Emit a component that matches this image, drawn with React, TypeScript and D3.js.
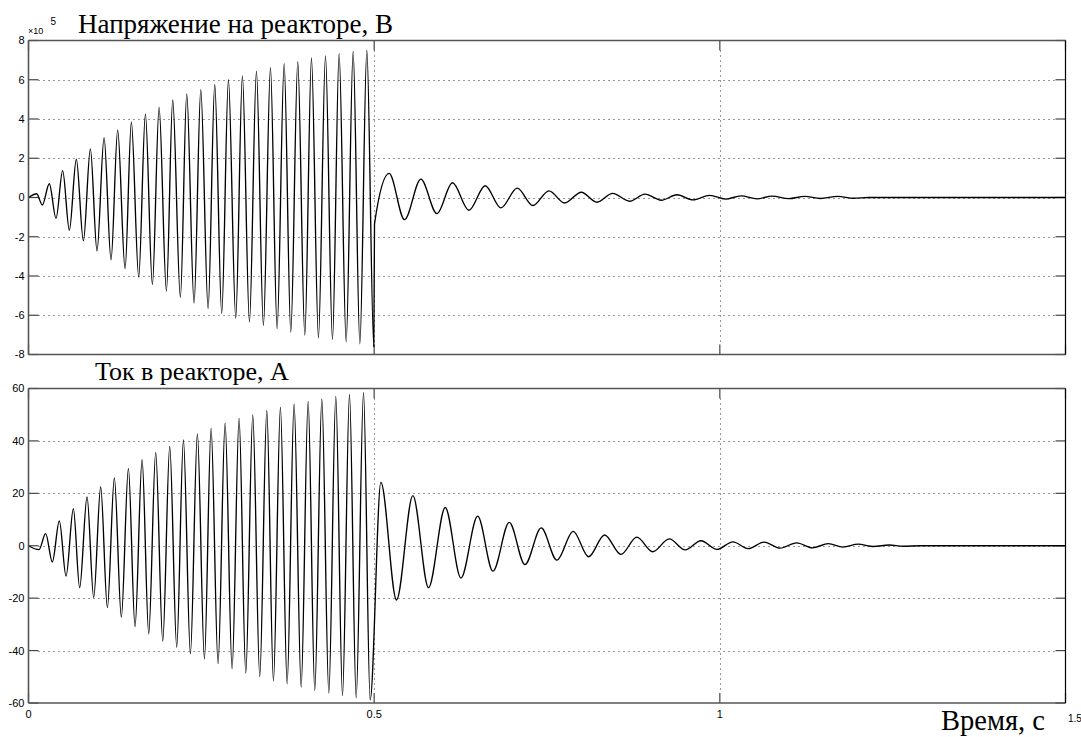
import React from "react";
import * as d3 from "d3";

// ---- Data (extrema of the waveforms) ----
// Voltage on reactor, units of 1e5 V
const voltageTime = [
  0, 0.0118, 0.02, 0.0301, 0.0398, 0.0494, 0.0591, 0.0692, 0.0794, 0.0895, 0.0991,
  0.1093, 0.1194, 0.129, 0.1397, 0.1488, 0.1594, 0.1691, 0.1792, 0.1889, 0.1995,
  0.2086, 0.2197, 0.2289, 0.2395, 0.2492, 0.2598, 0.2694, 0.2795, 0.2892, 0.2998,
  0.3094, 0.3196, 0.3297, 0.3398, 0.35, 0.3596, 0.3698, 0.3794, 0.3895, 0.3997,
  0.4093, 0.4194, 0.4296, 0.4397, 0.4493, 0.4595, 0.4696, 0.4793, 0.4894, 0.4995,
  0.5005, 0.5217, 0.5439, 0.5675, 0.5907, 0.6133, 0.637, 0.6606, 0.6833, 0.7069,
  0.7296, 0.7528, 0.7754, 0.7996, 0.8223, 0.8449, 0.8695, 0.8917, 0.9153, 0.938,
  0.9612, 0.9853, 1.008, 1.0307, 1.0538, 1.0755, 1.0996, 1.1228, 1.1454, 1.1705,
  1.1936, 1.215, 1.5,
];
const voltageValue = [
  0, 0.19, -0.38, 0.7, -1.06, 1.37, -1.66, 1.95, -2.21, 2.48, -2.72,
  3.05, -3.17, 3.43, -3.63, 3.84, -4.05, 4.25, -4.43, 4.59, -4.77,
  4.97, -5.09, 5.28, -5.38, 5.5, -5.66, 5.76, -5.91, 6.0, -6.14,
  6.2, -6.34, 6.44, -6.51, 6.62, -6.68, 6.82, -6.86, 6.92, -7.01,
  7.11, -7.15, 7.22, -7.23, 7.33, -7.35, 7.44, -7.45, 7.51, -7.6,
  -1.34, 1.23, -1.13, 0.94, -0.82, 0.75, -0.65, 0.6, -0.53, 0.48,
  -0.41, 0.34, -0.28, 0.27, -0.24, 0.21, -0.19, 0.17, -0.14, 0.14,
  -0.12, 0.11, -0.08, 0.08, -0.07, 0.07, -0.06, 0.06, -0.05, 0.06,
  -0.04, 0, 0,
];

// Current in reactor, A
const currentTime = [
  0, 0.0152, 0.0248, 0.0345, 0.0446, 0.0543, 0.0649, 0.074, 0.0847, 0.0943, 0.1044,
  0.1141, 0.1242, 0.1343, 0.1445, 0.1541, 0.1643, 0.1739, 0.184, 0.1942, 0.2043,
  0.2144, 0.2241, 0.2342, 0.2443, 0.2545, 0.2641, 0.2742, 0.2844, 0.2945, 0.3046,
  0.3143, 0.3244, 0.3345, 0.3447, 0.3543, 0.3644, 0.3741, 0.3842, 0.3944, 0.4045,
  0.4141, 0.4243, 0.4344, 0.4445, 0.4542, 0.4643, 0.474, 0.4846, 0.4942,
  0.5097, 0.5323, 0.556, 0.5786, 0.6028, 0.6255, 0.6497, 0.6718, 0.6954, 0.7181,
  0.7416, 0.7643, 0.7879, 0.8101, 0.8333, 0.8569, 0.88, 0.9027, 0.9268, 0.95,
  0.9726, 0.9957, 1.019, 1.041, 1.064, 1.087, 1.111, 1.134, 1.157, 1.178,
  1.2, 1.222, 1.245, 1.265, 1.29, 1.5,
];
const currentValue = [
  0, -1.5, 4.6, -6.2, 9.5, -11.6, 14.1, -16.0, 18.6, -19.8, 22.4,
  -23.6, 25.9, -27.2, 29.5, -30.8, 32.8, -33.6, 35.6, -36.4, 37.9,
  -38.7, 40.4, -41.2, 42.7, -43.1, 44.8, -45.0, 46.8, -46.9, 48.6,
  -48.6, 49.9, -49.9, 51.6, -51.6, 52.9, -52.7, 54.1, -53.9, 55.1,
  -55.2, 56.0, -56.2, 57.0, -57.2, 57.7, -58.0, 58.5, -58.8,
  24.2, -20.7, 19.1, -16.0, 14.6, -12.3, 11.3, -9.7, 8.9, -7.2,
  6.8, -5.5, 5.5, -4.2, 4.1, -3.3, 3.3, -2.3, 2.6, -1.6,
  1.9, -1.4, 1.5, -1.1, 1.4, -0.9, 1.1, -0.8, 0.8, -0.5,
  0.6, -0.3, 0.3, -0.2, 0, 0,
];

const xTicks = [0, 0.5, 1, 1.5];
const xTickLabels = ["0", "0.5", "1", "1.5"];
const voltageTicks = [-8, -6, -4, -2, 0, 2, 4, 6, 8];
const currentTicks = [-60, -40, -20, 0, 20, 40, 60];

const titleTop = "Напряжение на реакторе, В";
const titleBottom = "Ток в реакторе, А";
const xLabel = "Время, с";

const W = 1081;
const H = 737;
const X0 = 28.5;
const X1 = 1065.5;
const TICK_LEN = 10;
const sans = "'Liberation Sans', Arial, sans-serif";
const serif = "'Liberation Serif', 'Times New Roman', serif";

type PanelProps = {
  id: string;
  top: number;
  bottom: number;
  domain: [number, number];
  ticks: number[];
  times: number[];
  values: number[];
};

const x = d3.scaleLinear().domain([0, 1.5]).range([X0, X1]);

function Panel({ id, top, bottom, domain, ticks, times, values }: PanelProps) {
  const y = d3.scaleLinear().domain(domain).range([bottom, top]);
  const pts: [number, number][] = times.map((t, i) => [t, values[i]]);
  const line = d3
    .line<[number, number]>()
    .x((d) => x(d[0]))
    .y((d) => y(d[1]))
    .curve(d3.curveMonotoneX);
  const inner = ticks.filter((v) => v !== domain[0] && v !== domain[1]);
  const innerX = xTicks.filter((v) => v !== 0 && v !== 1.5);
  return (
    <g>
      <defs>
        <clipPath id={id}>
          <rect x={X0} y={top} width={X1 - X0} height={bottom - top} />
        </clipPath>
      </defs>
      <rect x={X0} y={top} width={X1 - X0} height={bottom - top} fill="#fff" />
      {/* grid */}
      {inner.map((v) => (
        <line
          key={"gy" + v}
          x1={X0 + TICK_LEN}
          x2={X1 - TICK_LEN}
          y1={Math.round(y(v)) + 0.5}
          y2={Math.round(y(v)) + 0.5}
          stroke="#333"
          strokeWidth={1}
          strokeDasharray="1 4"
        />
      ))}
      {innerX.map((v) => (
        <line
          key={"gx" + v}
          x1={Math.round(x(v)) + 0.5}
          x2={Math.round(x(v)) + 0.5}
          y1={top + TICK_LEN}
          y2={bottom - TICK_LEN}
          stroke="#333"
          strokeWidth={1}
          strokeDasharray="1 4"
        />
      ))}
      {/* ticks */}
      {ticks.map((v) => (
        <g key={"ty" + v}>
          <line x1={X0} x2={X0 + TICK_LEN} y1={y(v)} y2={y(v)} stroke="#444" strokeWidth={1.2} />
          <line x1={X1 - TICK_LEN} x2={X1} y1={y(v)} y2={y(v)} stroke="#444" strokeWidth={1.2} />
          <text
            x={24.5}
            y={y(v)}
            dy="0.36em"
            textAnchor="end"
            fontFamily={sans}
            fontSize={11}
            fill="#000"
          >
            {v}
          </text>
        </g>
      ))}
      {xTicks.map((v) => (
        <g key={"tx" + v}>
          <line x1={x(v)} x2={x(v)} y1={bottom} y2={bottom - TICK_LEN} stroke="#444" strokeWidth={1.2} />
          <line x1={x(v)} x2={x(v)} y1={top} y2={top + TICK_LEN} stroke="#444" strokeWidth={1.2} />
        </g>
      ))}
      {/* data */}
      <path
        d={line(pts) || ""}
        fill="none"
        stroke="#000"
        strokeWidth={1.35}
        clipPath={`url(#${id})`}
      />
      {/* box */}
      <line x1={X0} x2={X1} y1={top} y2={top} stroke="#555" strokeWidth={1.6} />
      <line x1={X0} x2={X1} y1={bottom} y2={bottom} stroke="#555" strokeWidth={1.6} />
      <line x1={X0} x2={X0} y1={top} y2={bottom} stroke="#555" strokeWidth={1.6} />
      <line x1={X1} x2={X1} y1={top} y2={bottom} stroke="#000" strokeWidth={1.2} />
    </g>
  );
}

export default function App() {
  const topY0 = 40.5;
  const topY1 = 354.5;
  const botY0 = 388.5;
  const botY1 = 703;
  return (
    <svg
      width={W}
      height={H}
      viewBox={`0 0 ${W} ${H}`}
      style={{ position: "absolute", left: 0, top: 0, background: "#fff" }}
    >
      <rect x={0} y={0} width={W} height={H} fill="#fff" />
      <Panel
        id="clipTop"
        top={topY0}
        bottom={topY1}
        domain={[-8, 8]}
        ticks={voltageTicks}
        times={voltageTime}
        values={voltageValue}
      />
      <Panel
        id="clipBot"
        top={botY0}
        bottom={botY1}
        domain={[-60, 60]}
        ticks={currentTicks}
        times={currentTime}
        values={currentValue}
      />
      {/* exponent */}
      <text x={28} y={34} fontFamily={sans} fontSize={9} fill="#000">
        ×10
      </text>
      <text x={50.5} y={25} fontFamily={sans} fontSize={10} fill="#000">
        5
      </text>
      {/* x tick labels */}
      {xTicks.slice(0, 3).map((v, i) => (
        <text
          key={"xl" + v}
          x={x(v)}
          y={718}
          textAnchor="middle"
          fontFamily={sans}
          fontSize={11}
          fill="#000"
        >
          {xTickLabels[i]}
        </text>
      ))}
      <text x={1068} y={722} fontFamily={sans} fontSize={10} fill="#000">
        {xTickLabels[3]}
      </text>
      {/* titles */}
      <text x={78} y={33} fontFamily={serif} fontSize={27} fill="#000">
        {titleTop}
      </text>
      <text x={95} y={380} fontFamily={serif} fontSize={26} fill="#000">
        {titleBottom}
      </text>
      <text x={941} y={730} fontFamily={serif} fontSize={28.5} fill="#000">
        {xLabel}
      </text>
    </svg>
  );
}
